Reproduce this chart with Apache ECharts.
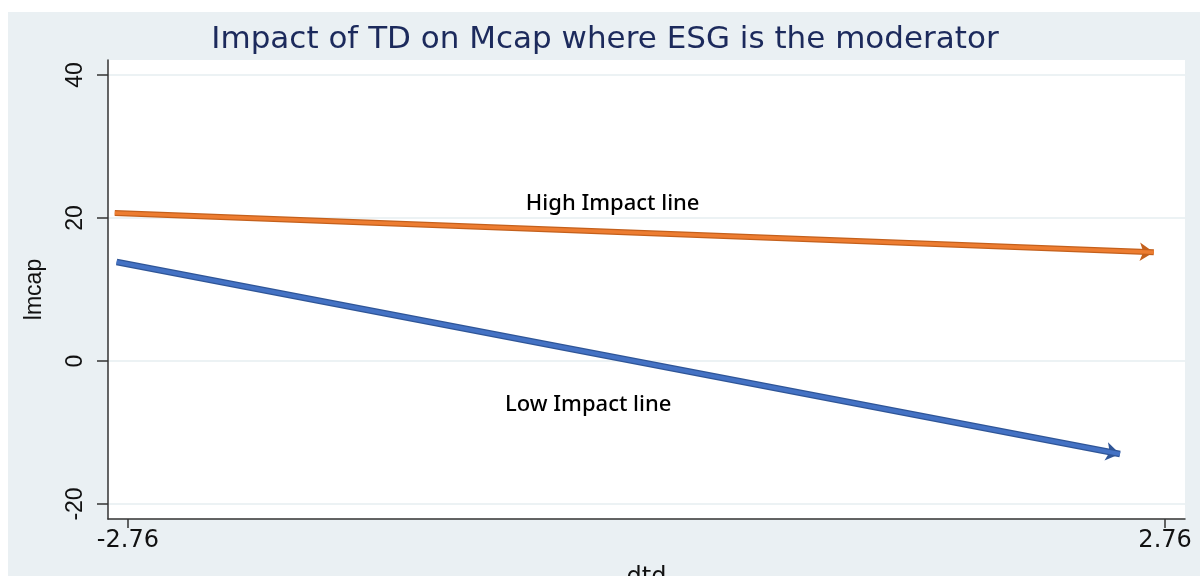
<!DOCTYPE html>
<html>
<head>
<meta charset="utf-8">
<script src="https://cdn.jsdelivr.net/npm/echarts@6/dist/echarts.min.js"></script>
<style>
html,body{margin:0;padding:0;background:#fff;}
#chart{width:1200px;height:576px;}
</style>
</head>
<body>
<div id="chart"></div>
<script>
// ---- data ----
var titleText = 'Impact of TD on Mcap where ESG is the moderator';
var xName = 'dtd';
var yName = 'lmcap';
var xTicks = [-2.76, 2.76];
var yTicks = [-20, 0, 20, 40];
var xRange = [-2.866, 2.866];
var yRange = [-22.1, 42.1];
// High impact line (start, end)
var highX = [-2.83, 2.70];
var highY = [20.7, 15.2];
// Low impact line (start, end)
var lowX = [-2.82, 2.52];
var lowY = [13.85, -13.0];
// annotations
var noteText = ['High Impact line', 'Low Impact line'];
var noteX = [-0.18, -0.31];
var noteY = [22.0, -6.1];

function pairs(xs, ys) { return xs.map(function (x, i) { return [x, ys[i]]; }); }

var chart = echarts.init(document.getElementById('chart'), null, {renderer: 'canvas'});

function lineLayer(coords, color, width, arrow, arrowSize, z) {
  return {
    type: 'lines',
    coordinateSystem: 'cartesian2d',
    polyline: false,
    silent: true,
    z: z,
    symbol: ['none', arrow ? 'arrow' : 'none'],
    symbolSize: arrowSize,
    lineStyle: {color: color, width: width, opacity: 1, curveness: 0},
    data: [{coords: coords}]
  };
}

var option = {
  animation: false,
  backgroundColor: '#ffffff',
  graphic: [{
    type: 'rect', z: -10, silent: true,
    shape: {x: 8, y: 12, width: 1192, height: 564},
    style: {fill: '#eaf0f3'}
  }],
  title: {
    text: titleText,
    left: 600, top: 19, textAlign: 'center',
    textStyle: {fontFamily: 'DejaVu Sans', fontSize: 31, fontWeight: 'normal', color: '#1c2a5c', lineHeight: 31}
  },
  grid: {
    left: 108, right: 15, top: 60, bottom: 57,
    outerBoundsMode: 'none', containLabel: false,
    show: true, backgroundColor: '#ffffff', borderWidth: 0
  },
  xAxis: {
    type: 'value',
    min: xRange[0], max: xRange[1],
    name: xName, nameLocation: 'middle', nameGap: 47,
    nameTextStyle: {fontFamily: 'DejaVu Sans', fontSize: 24, color: '#111'},
    axisLine: {show: true, onZero: false, lineStyle: {color: '#333', width: 1.5}},
    axisTick: {show: true, length: 9, customValues: xTicks, lineStyle: {color: '#333', width: 1.5}},
    axisLabel: {customValues: xTicks, margin: 10, fontFamily: 'DejaVu Sans', fontSize: 24, color: '#111',
      formatter: function (v) { return v.toFixed(2); }},
    splitLine: {show: false}
  },
  yAxis: {
    type: 'value',
    min: yRange[0], max: yRange[1],
    name: yName, nameLocation: 'middle', nameGap: 62, nameRotate: 90,
    nameTextStyle: {fontFamily: 'Liberation Sans', fontSize: 23, color: '#111'},
    axisLine: {show: true, onZero: false, lineStyle: {color: '#333', width: 1.5}},
    axisTick: {show: true, length: 11, customValues: yTicks, lineStyle: {color: '#333', width: 1.5}},
    axisLabel: {customValues: yTicks, rotate: 90, margin: 21, fontFamily: 'Liberation Sans', fontSize: 23, color: '#111'},
    splitLine: {show: true, lineStyle: {color: '#e6eef1', width: 1.5}}
  },
  series: [
    lineLayer(pairs(highX, highY), '#c4601c', 6, true, 14, 2),
    lineLayer(pairs(highX, highY), '#ed7d31', 3.5, false, 0, 3),
    lineLayer(pairs(lowX, lowY), '#2f5597', 6.5, true, 14, 2),
    lineLayer(pairs(lowX, lowY), '#4472c4', 4, false, 0, 3),
    {
      type: 'scatter',
      silent: true,
      symbolSize: 0,
      z: 5,
      itemStyle: {opacity: 1},
      data: noteText.map(function (t, i) { return {name: t, value: [noteX[i], noteY[i]]}; }),
      label: {
        show: true, position: 'inside',
        formatter: function (p) { return p.name; },
        fontFamily: 'Noto Sans', fontSize: 22, fontWeight: 500, color: '#000', opacity: 1
      }
    }
  ]
};
chart.setOption(option);
</script>
</body>
</html>
